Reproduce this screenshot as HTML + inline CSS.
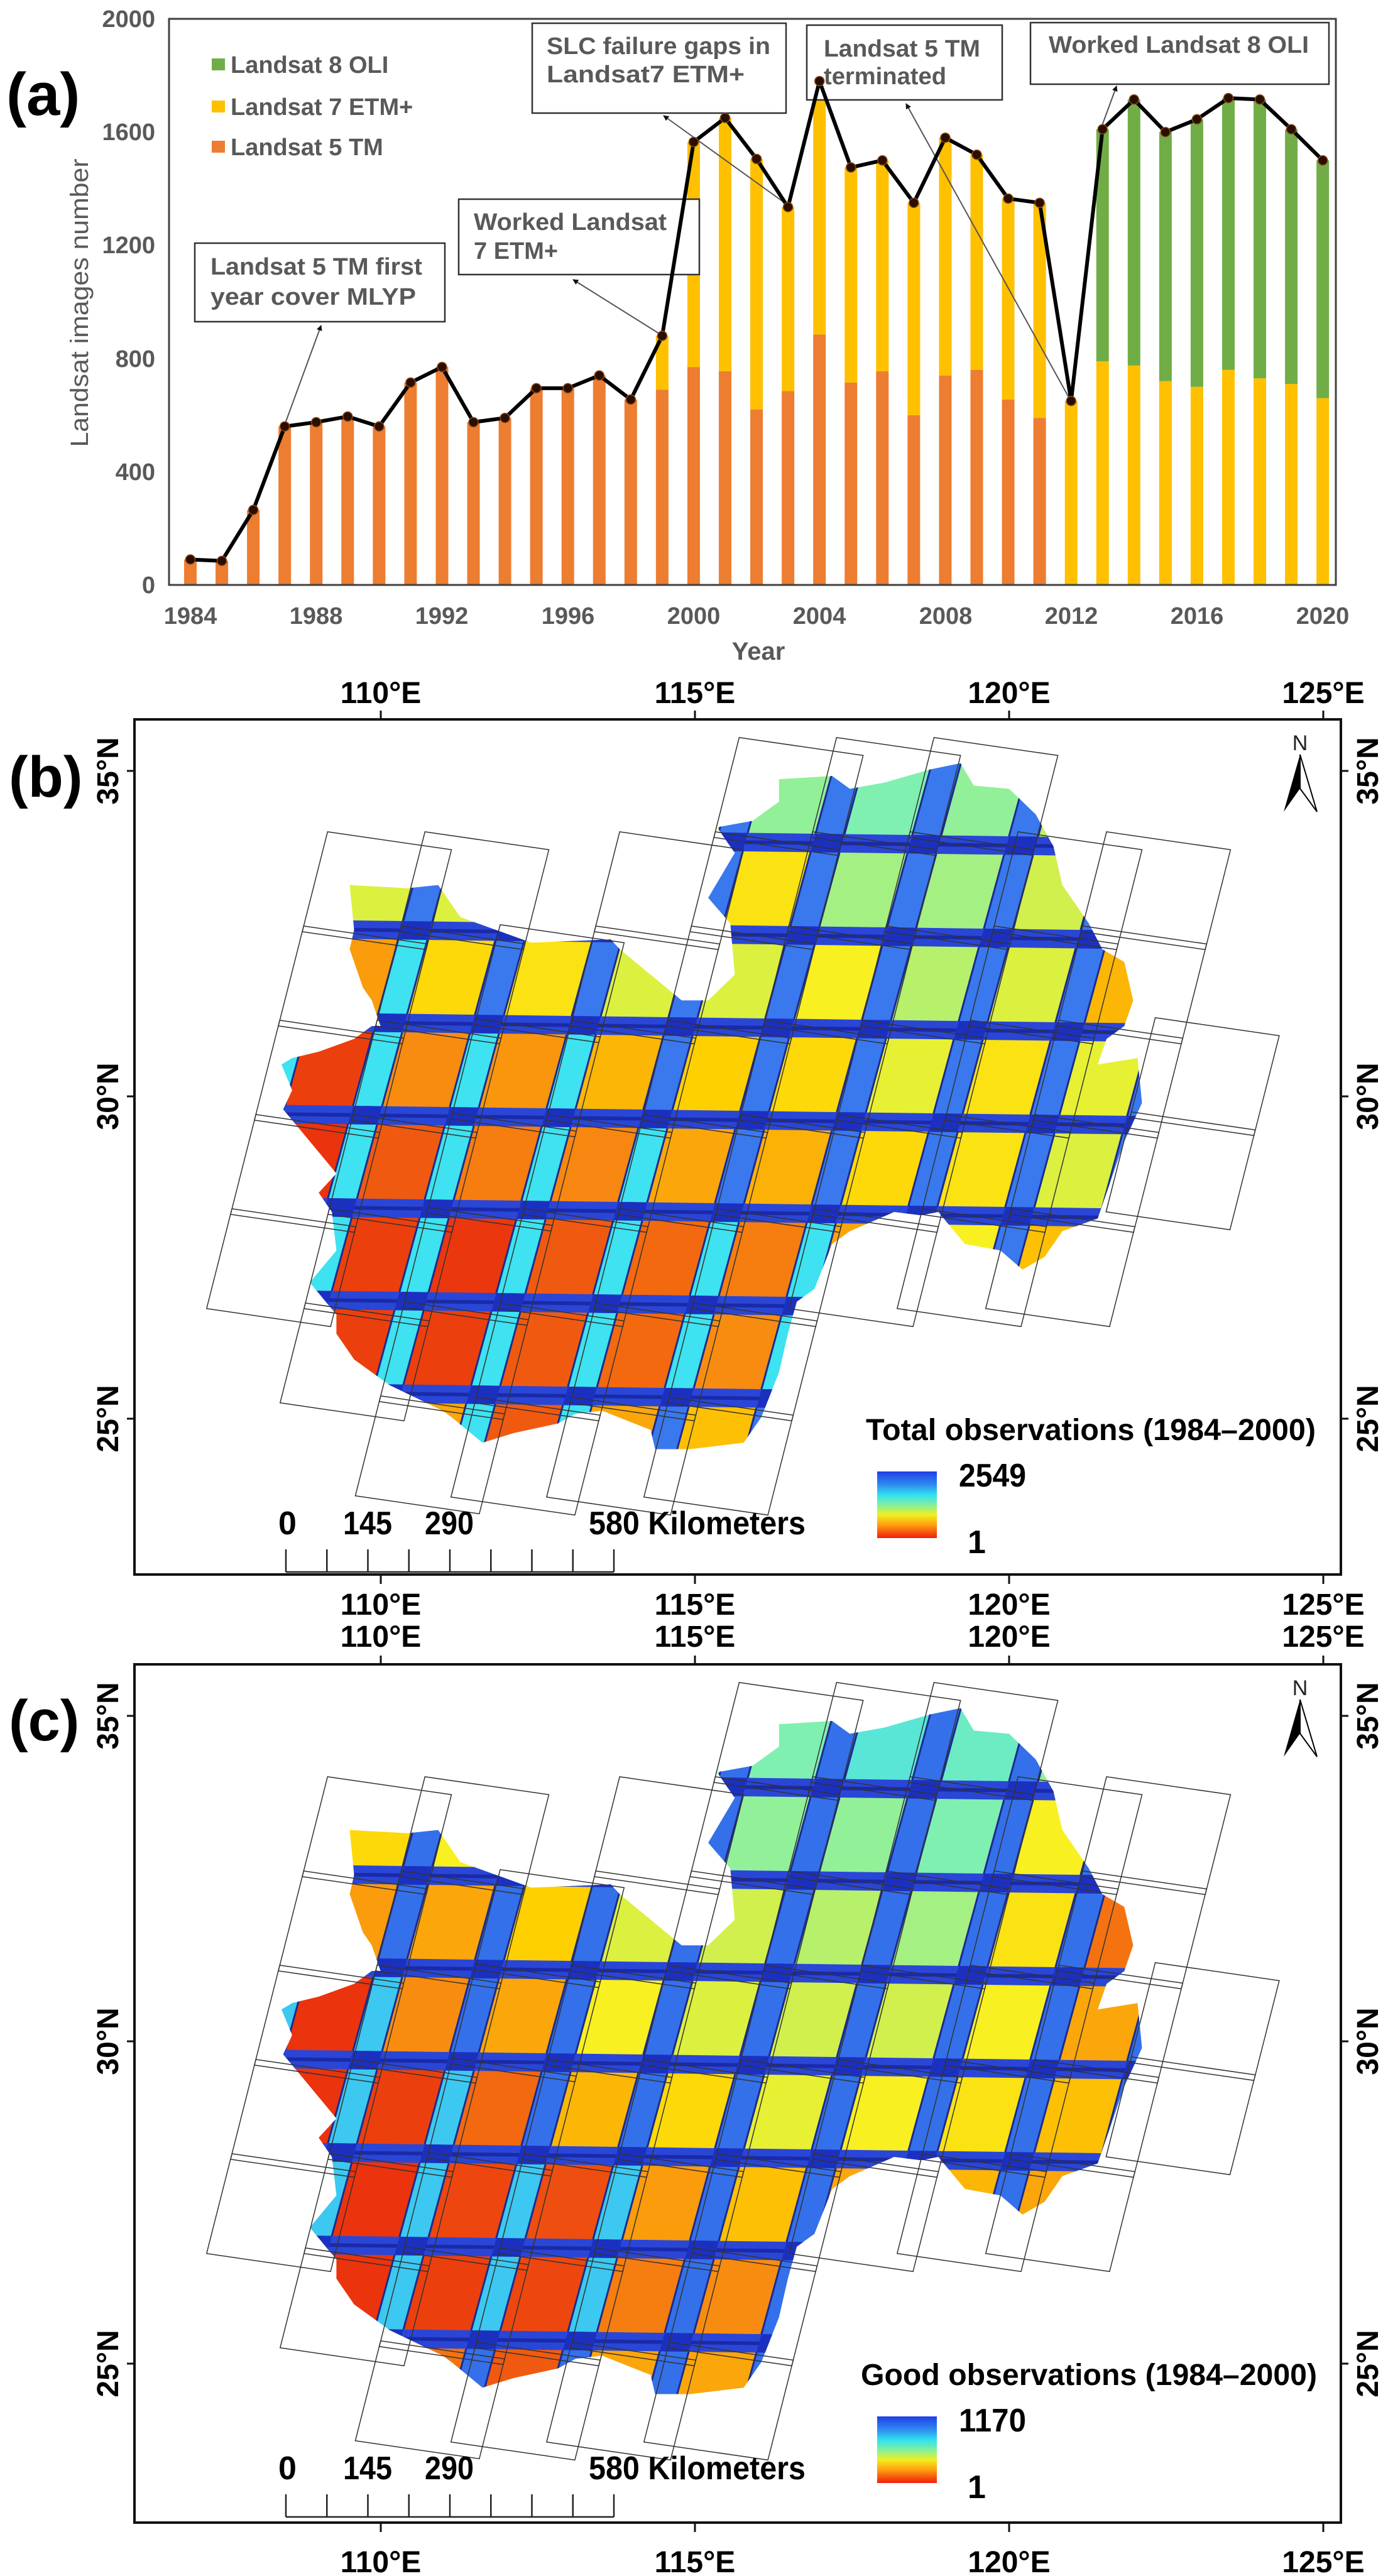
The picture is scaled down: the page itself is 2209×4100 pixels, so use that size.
<!DOCTYPE html>
<html><head><meta charset="utf-8">
<style>
html,body{margin:0;padding:0;background:#fff;}
svg{display:block;font-family:"Liberation Sans",Arial,sans-serif;}
.g{fill:#595959;font-weight:bold;}
.k{fill:#000;font-weight:bold;}
</style></head>
<body>
<svg id="s" width="2209" height="4100" viewBox="0 0 2209 4100" xmlns="http://www.w3.org/2000/svg">
<defs>
<linearGradient id="cb" x1="0" y1="0" x2="0" y2="1">
<stop offset="0" stop-color="#1f3ee6"/><stop offset="0.2" stop-color="#2f8cf0"/><stop offset="0.35" stop-color="#30e0f0"/>
<stop offset="0.5" stop-color="#80f0a0"/><stop offset="0.65" stop-color="#f0f020"/><stop offset="0.8" stop-color="#ffa010"/><stop offset="1" stop-color="#f01e0e"/>
</linearGradient>
<marker id="ah" viewBox="0 0 10 10" refX="9" refY="5" markerWidth="9" markerHeight="9" orient="auto-start-reverse" markerUnits="userSpaceOnUse">
<path d="M0,0 L10,5 L0,10 z" fill="#111"/></marker>
<clipPath id="clipB" clipPathUnits="userSpaceOnUse"><polygon id="polyB"/></clipPath>
<clipPath id="clipC" clipPathUnits="userSpaceOnUse"><polygon id="polyC"/></clipPath>
</defs>

<!-- ===== Panel (a) ===== -->
<text x="10" y="183" class="k" font-size="96">(a)</text>
<g id="chart"></g>
<rect x="269" y="30" width="1857" height="901" fill="none" stroke="#404040" stroke-width="3"/>
<g class="g" font-size="38" text-anchor="end">
<text x="247" y="944">0</text><text x="247" y="764">400</text><text x="247" y="584">800</text>
<text x="247" y="403">1200</text><text x="247" y="223">1600</text><text x="247" y="43">2000</text>
</g>
<g class="g" font-size="38" text-anchor="middle">
<text x="303" y="993">1984</text><text x="503" y="993">1988</text><text x="703" y="993">1992</text>
<text x="904" y="993">1996</text><text x="1104" y="993">2000</text><text x="1304" y="993">2004</text>
<text x="1505" y="993">2008</text><text x="1705" y="993">2012</text><text x="1905" y="993">2016</text>
<text x="2105" y="993">2020</text>
<text x="1207" y="1050" font-size="40">Year</text>
</g>
<text transform="translate(140,482) rotate(-90)" text-anchor="middle" font-size="40" fill="#595959" textLength="459" lengthAdjust="spacingAndGlyphs">Landsat images number</text>
<rect x="337" y="93" width="21" height="19" fill="#70AD47"/>
<rect x="337" y="160" width="21" height="19" fill="#FFC000"/>
<rect x="337" y="224" width="21" height="19" fill="#ED7D31"/>
<g class="g" font-size="38">
<text x="367" y="116">Landsat 8 OLI</text>
<text x="367" y="183">Landsat 7 ETM+</text>
<text x="367" y="247">Landsat 5 TM</text>
</g>
<g fill="#fff" stroke="#333" stroke-width="2.5">
<rect x="310" y="387" width="398" height="125"/>
<rect x="730" y="317" width="383" height="120"/>
<rect x="847" y="37" width="404" height="143"/>
<rect x="1284" y="40" width="311" height="119"/>
<rect x="1640" y="36" width="475" height="98"/>
</g>
<g class="g" font-size="38">
<text x="335" y="437" textLength="337" lengthAdjust="spacingAndGlyphs">Landsat 5 TM first</text>
<text x="335" y="485" textLength="327" lengthAdjust="spacingAndGlyphs">year cover  MLYP</text>
<text x="754" y="366" textLength="307" lengthAdjust="spacingAndGlyphs">Worked Landsat</text>
<text x="754" y="412">7 ETM+</text>
<text x="870" y="86" textLength="356" lengthAdjust="spacingAndGlyphs">SLC failure gaps in</text>
<text x="870" y="131" textLength="315" lengthAdjust="spacingAndGlyphs">Landsat7 ETM+</text>
<text x="1311" y="90" textLength="249" lengthAdjust="spacingAndGlyphs">Landsat 5 TM</text>
<text x="1311" y="134" textLength="195" lengthAdjust="spacingAndGlyphs">terminated</text>
<text x="1669" y="84" textLength="414" lengthAdjust="spacingAndGlyphs">Worked Landsat 8 OLI</text>
</g>
<g stroke="#555" stroke-width="2" marker-end="url(#ah)">
<line x1="452" y1="679" x2="511" y2="518"/>
<line x1="1054" y1="534" x2="912" y2="445"/>
<line x1="1256" y1="328" x2="1056" y2="184"/>
<line x1="1703" y1="636" x2="1442" y2="165"/>
<line x1="1752" y1="205" x2="1777" y2="137"/>
</g>
<g id="line"></g>

<!-- ===== Maps ===== -->
<text x="14" y="1268" class="k" font-size="92">(b)</text>
<text x="14" y="2770" class="k" font-size="92">(c)</text>
<g id="mapB" clip-path="url(#clipB)"></g>
<g id="mapC" clip-path="url(#clipC)"></g>
<g id="scenesB" fill="none" stroke="#333" stroke-width="1.5"></g>
<g id="scenesC" fill="none" stroke="#333" stroke-width="1.5"></g>

<rect x="214" y="1145" width="1920" height="1361" fill="none" stroke="#111" stroke-width="4"/>
<rect x="214" y="2649" width="1920" height="1366" fill="none" stroke="#111" stroke-width="4"/>
<g stroke="#111" stroke-width="3">
<line x1="606" y1="1145" x2="606" y2="1131"/><line x1="1106" y1="1145" x2="1106" y2="1131"/><line x1="1606" y1="1145" x2="1606" y2="1131"/><line x1="2106" y1="1145" x2="2106" y2="1131"/>
<line x1="606" y1="2506" x2="606" y2="2521"/><line x1="1106" y1="2506" x2="1106" y2="2521"/><line x1="1606" y1="2506" x2="1606" y2="2521"/><line x1="2106" y1="2506" x2="2106" y2="2521"/>
<line x1="606" y1="2649" x2="606" y2="2635"/><line x1="1106" y1="2649" x2="1106" y2="2635"/><line x1="1606" y1="2649" x2="1606" y2="2635"/><line x1="2106" y1="2649" x2="2106" y2="2635"/>
<line x1="606" y1="4015" x2="606" y2="4030"/><line x1="1106" y1="4015" x2="1106" y2="4030"/><line x1="1606" y1="4015" x2="1606" y2="4030"/><line x1="2106" y1="4015" x2="2106" y2="4030"/>
<line x1="214" y1="1227" x2="202" y2="1227"/><line x1="214" y1="1745" x2="202" y2="1745"/><line x1="214" y1="2258" x2="202" y2="2258"/>
<line x1="2134" y1="1227" x2="2146" y2="1227"/><line x1="2134" y1="1745" x2="2146" y2="1745"/><line x1="2134" y1="2258" x2="2146" y2="2258"/>
<line x1="214" y1="2731" x2="202" y2="2731"/><line x1="214" y1="3249" x2="202" y2="3249"/><line x1="214" y1="3762" x2="202" y2="3762"/>
<line x1="2134" y1="2731" x2="2146" y2="2731"/><line x1="2134" y1="3249" x2="2146" y2="3249"/><line x1="2134" y1="3762" x2="2146" y2="3762"/>
</g>
<g class="k" font-size="48" text-anchor="middle">
<text x="606" y="1119">110°E</text><text x="1106" y="1119">115°E</text><text x="1606" y="1119">120°E</text><text x="2106" y="1119">125°E</text>
<text x="606" y="2570">110°E</text><text x="1106" y="2570">115°E</text><text x="1606" y="2570">120°E</text><text x="2106" y="2570">125°E</text>
<text x="606" y="2621">110°E</text><text x="1106" y="2621">115°E</text><text x="1606" y="2621">120°E</text><text x="2106" y="2621">125°E</text>
<text x="606" y="4094">110°E</text><text x="1106" y="4094">115°E</text><text x="1606" y="4094">120°E</text><text x="2106" y="4094">125°E</text>
</g>
<g class="k" font-size="48" text-anchor="middle">
<text transform="translate(188,1227) rotate(-90)">35°N</text>
<text transform="translate(188,1745) rotate(-90)">30°N</text>
<text transform="translate(188,2258) rotate(-90)">25°N</text>
<text transform="translate(2193,1227) rotate(-90)">35°N</text>
<text transform="translate(2193,1745) rotate(-90)">30°N</text>
<text transform="translate(2193,2258) rotate(-90)">25°N</text>
<text transform="translate(188,2731) rotate(-90)">35°N</text>
<text transform="translate(188,3249) rotate(-90)">30°N</text>
<text transform="translate(188,3762) rotate(-90)">25°N</text>
<text transform="translate(2193,2731) rotate(-90)">35°N</text>
<text transform="translate(2193,3249) rotate(-90)">30°N</text>
<text transform="translate(2193,3762) rotate(-90)">25°N</text>
</g>

<g>
<text x="1378" y="2292" class="k" font-size="48" textLength="716" lengthAdjust="spacingAndGlyphs">Total observations (1984–2000)</text>
<rect x="1396" y="2342" width="95" height="106" fill="url(#cb)"/>
<text x="1526" y="2366" class="k" font-size="52" textLength="107" lengthAdjust="spacingAndGlyphs">2549</text>
<text x="1540" y="2472" class="k" font-size="52">1</text>
</g>
<g>
<text x="1370" y="3796" class="k" font-size="48" textLength="726" lengthAdjust="spacingAndGlyphs">Good observations (1984–2000)</text>
<rect x="1396" y="3846" width="95" height="106" fill="url(#cb)"/>
<text x="1526" y="3870" class="k" font-size="52" textLength="107" lengthAdjust="spacingAndGlyphs">1170</text>
<text x="1540" y="3976" class="k" font-size="52">1</text>
</g>
<g class="k" font-size="52">
<text x="443" y="2442">0</text><text x="546" y="2442" textLength="78" lengthAdjust="spacingAndGlyphs">145</text><text x="676" y="2442" textLength="78" lengthAdjust="spacingAndGlyphs">290</text>
<text x="937" y="2442" textLength="345" lengthAdjust="spacingAndGlyphs">580 Kilometers</text>
</g>
<g class="k" font-size="52">
<text x="443" y="3946">0</text><text x="546" y="3946" textLength="78" lengthAdjust="spacingAndGlyphs">145</text><text x="676" y="3946" textLength="78" lengthAdjust="spacingAndGlyphs">290</text>
<text x="937" y="3946" textLength="345" lengthAdjust="spacingAndGlyphs">580 Kilometers</text>
</g>
<g id="bars2" stroke="#222" stroke-width="2.5" fill="none"></g>
<g id="north"></g>
<text x="2069" y="1194" text-anchor="middle" font-size="34" fill="#222">N</text>
<text x="2069" y="2698" text-anchor="middle" font-size="34" fill="#222">N</text>
</svg>
<script>
(function(){
var NS="http://www.w3.org/2000/svg";
function el(p,t,a){var e=document.createElementNS(NS,t);for(var k in a)e.setAttribute(k,a[k]);p.appendChild(e);return e;}
var tot=[90,85,265,560,575,595,560,715,770,575,590,695,695,740,655,880,1565,1650,1505,1335,1780,1475,1500,1350,1580,1520,1365,1350,650,1610,1715,1600,1645,1720,1715,1610,1500];
var l5=[90,85,265,560,575,595,560,715,770,575,590,695,695,740,655,690,770,755,620,685,885,715,755,600,740,760,655,590,0,0,0,0,0,0,0,0,0];
var l7b=[650,790,775,720,700,760,730,710,660];
function Y(v){return 931-v*0.4505;}
function X(i){return 303+50.06*i;}
var ch=document.getElementById('chart');
for(var i=0;i<37;i++){
  var a5=l5[i],a7,a8=0;
  if(i<28){a7=tot[i]-a5;}else{a7=l7b[i-28];a8=tot[i]-a7;}
  var x=X(i)-10,y0=931;
  if(a5>0){el(ch,'rect',{x:x,y:Y(a5),width:20,height:y0-Y(a5),fill:'#ED7D31'});}
  if(a7>0){el(ch,'rect',{x:x,y:Y(a5+a7),width:20,height:Y(a5)-Y(a5+a7),fill:'#FFC000'});}
  if(a8>0){el(ch,'rect',{x:x,y:Y(tot[i]),width:20,height:Y(a5+a7)-Y(tot[i]),fill:'#70AD47'});}
}
var ln=document.getElementById('line'),pts=[];
for(var i=0;i<37;i++)pts.push(X(i)+','+Y(tot[i]));
el(ln,'polyline',{points:pts.join(' '),fill:'none',stroke:'#000','stroke-width':6,'stroke-linejoin':'round'});
for(var i=0;i<37;i++)el(ln,'circle',{cx:X(i),cy:Y(tot[i]),r:7.5,fill:'#2a0e00',stroke:'#8a4a20','stroke-width':1.5});

function T(x,y){return [x*1.4089,980+y*1.0204];}
var outl=[[395,420],[460,425],[495,420],[520,470],[560,490],[600,510],[690,505],[700,520],[770,600],[800,600],[830,560],[825,480],[800,440],[830,370],[810,330],[850,320],[880,290],[880,255],[940,250],[960,270],[1000,260],[1050,240],[1085,230],[1100,265],[1140,270],[1170,310],[1190,360],[1200,420],[1230,480],[1245,520],[1270,540],[1280,600],[1270,640],[1250,660],[1240,700],[1285,690],[1290,760],[1270,820],[1250,900],[1240,940],[1200,960],[1180,1000],[1155,1020],[1130,990],[1090,980],[1060,930],[1040,935],[1010,930],[960,960],[940,980],[920,1050],[900,1070],[890,1120],[880,1180],[860,1250],[840,1290],[780,1300],[740,1300],[735,1270],[680,1240],[650,1245],[630,1260],[580,1275],[545,1290],[510,1250],[500,1240],[470,1220],[440,1200],[400,1160],[380,1120],[380,1090],[350,1040],[380,990],[375,930],[360,900],[380,870],[350,820],[320,770],[330,740],[318,700],[330,690],[360,680],[400,660],[420,640],[430,640],[420,600],[410,580],[395,520],[400,490]];
function polyStr(dy){return outl.map(function(p){var q=T(p[0],p[1]);return q[0].toFixed(1)+','+(q[1]+dy).toFixed(1);}).join(' ');}
document.getElementById('polyB').setAttribute('points',polyStr(0));
document.getElementById('polyC').setAttribute('points',polyStr(1504));

var stops=[[0,[232,32,12]],[0.15,[240,90,16]],[0.25,[248,140,16]],[0.38,[255,208,0]],[0.45,[248,240,32]],[0.55,[192,240,96]],[0.62,[128,240,176]],[0.72,[64,224,240]],[0.85,[58,128,240]],[1,[32,48,208]]];
function col(v){v=Math.max(0,Math.min(1,v));for(var k=1;k<stops.length;k++){if(v<=stops[k][0]){var a=stops[k-1],b=stops[k],t=(v-a[0])/(b[0]-a[0]);return 'rgb('+[0,1,2].map(function(n){return Math.round(a[1][n]+(b[1][n]-a[1][n])*t);}).join(',')+')';}}return 'rgb(32,48,208)';}
var valsB={'-4':{2:0.55,3:0.6,4:0.62,5:0.6,6:0.55},
'-3':{'-1':0.5,0:0.5,1:0.5,2:0.5,3:0.42,4:0.58,5:0.58,6:0.52,7:0.5},
'-2':{'-2':0.3,'-1':0.28,0:0.4,1:0.42,2:0.5,3:0.5,4:0.45,5:0.56,6:0.5,7:0.33,8:0.33},
'-1':{'-2':0.05,'-1':0.08,0:0.25,1:0.27,2:0.33,3:0.38,4:0.4,5:0.48,6:0.42,7:0.48,8:0.48},
'0':{'-2':0.05,'-1':0.05,0:0.15,1:0.22,2:0.24,3:0.3,4:0.32,5:0.4,6:0.42,7:0.5,8:0.5},
'1':{'-1':0.05,0:0.08,1:0.06,2:0.15,3:0.18,4:0.22,5:0.3,6:0.45,7:0.35},
'2':{'-1':0.08,0:0.08,1:0.08,2:0.15,3:0.18,4:0.25,5:0.3},
'3':{0:0.3,1:0.3,2:0.15,3:0.3,4:0.35,5:0.35}};
var valsC={'-4':{2:0.6,3:0.62,4:0.68,5:0.65,6:0.6},
'-3':{'-1':0.4,0:0.45,1:0.45,2:0.5,3:0.6,4:0.6,5:0.62,6:0.45,7:0.4},
'-2':{'-2':0.28,'-1':0.28,0:0.3,1:0.38,2:0.5,3:0.52,4:0.56,5:0.58,6:0.42,7:0.2,8:0.2},
'-1':{'-2':0.05,'-1':0.05,0:0.25,1:0.3,2:0.45,3:0.5,4:0.52,5:0.52,6:0.45,7:0.3,8:0.3},
'0':{'-2':0.05,'-1':0.05,0:0.08,1:0.18,2:0.33,3:0.4,4:0.48,5:0.45,6:0.42,7:0.35,8:0.35},
'1':{'-1':0.1,0:0.05,1:0.1,2:0.12,3:0.28,4:0.35,5:0.3,6:0.33,7:0.3},
'2':{'-1':0.05,0:0.05,1:0.08,2:0.1,3:0.22,4:0.25,5:0.28},
'3':{0:0.2,1:0.2,2:0.15,3:0.3,4:0.3,5:0.3}};
function drawMap(gid,vals,dy,isC){
  var g=document.getElementById(gid);
  var O=[581,1775+dy],c=[154,2],r=[-40,147];
  function P(u,v){return [O[0]+u*c[0]+v*r[0],O[1]+u*c[1]+v*r[1]];}
  function quad(u0,u1,v0,v1,f){var a=P(u0,v0),b=P(u1,v0),cc=P(u1,v1),d=P(u0,v1);el(g,'polygon',{points:[a,b,cc,d].map(function(p){return p[0].toFixed(1)+','+p[1].toFixed(1);}).join(' '),fill:f});}
  function gv(i,j){var row=vals[String(j)]||{};var v=row[String(i)];return v===undefined?0.4:v;}
  for(var j=-5;j<=4;j++){for(var i=-3;i<=9;i++){
    quad(i+0.15,i+0.851,j,j+1.001,col(gv(i,j)));
  }}
  for(var j=-5;j<=4;j++){for(var i=-3;i<=10;i++){
    var v=Math.min(gv(i-1,j),gv(i,j));
    var bc;
    if(isC){bc=v<0.15?'#3cc8f0':'#3470ea';}else{bc=v<0.3?'#3ee2f0':'#3a78ee';}
    quad(i-0.151,i+0.151,j,j+1.001,bc);
    quad(i-0.16,i-0.14,j,j+1.001,'#1a2a90');quad(i+0.14,i+0.16,j,j+1.001,'#1a2a90');
  }}
  for(var j=-5;j<=5;j++){quad(-3,10,j-0.1,j+0.1,'#2a46d6');quad(-3,10,j-0.02,j+0.02,'#1a2aa8');}
  for(var j=-5;j<=5;j++)for(var i=-3;i<=10;i++){quad(i-0.15,i+0.15,j-0.1,j+0.1,'#1c30c0');}
}
drawMap('mapB',valsB,0,false);
drawMap('mapC',valsC,1504,true);

var paths=[[370,337,5],[480,337,6],[565,482,6],[700,337,7],[835,190,8],[945,190,8],[1055,190,6],[1150,337,5],[1250,337,5],[1305,627,2]];
function scenes(gid,dy){
  var g=document.getElementById(gid);
  paths.forEach(function(p){for(var k=0;k<p[2];k++){
    var tx=p[0]-27*k,ty=p[1]+147*k;
    var cs=[[tx,ty],[tx+140,ty+28],[tx+140-28.6,ty+28+155.8],[tx-28.6,ty+155.8]];
    el(g,'polygon',{points:cs.map(function(q){var t=T(q[0],q[1]);return t[0].toFixed(1)+','+(t[1]+dy).toFixed(1);}).join(' ')});
  }});
}
scenes('scenesB',0);scenes('scenesC',1504);

var sb=document.getElementById('bars2');
[0,1504].forEach(function(dy){
  el(sb,'line',{x1:455,y1:2502+dy,x2:977,y2:2502+dy});
  for(var k=0;k<9;k++){var x=455+k*65.25;el(sb,'line',{x1:x,y1:2466+dy,x2:x,y2:2502+dy});}
});
var nn=document.getElementById('north');
[0,1504].forEach(function(dy){
  el(nn,'polygon',{points:'2069,'+(1201+dy)+' 2043,'+(1292+dy)+' 2069,'+(1255+dy),fill:'#000'});
  el(nn,'polygon',{points:'2069,'+(1201+dy)+' 2096,'+(1292+dy)+' 2069,'+(1255+dy),fill:'#fff',stroke:'#000','stroke-width':2});
});
})();
</script>
</body></html>
